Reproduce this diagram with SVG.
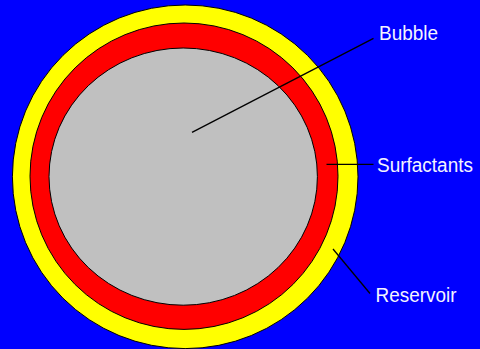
<svg xmlns="http://www.w3.org/2000/svg" width="480" height="349" viewBox="0 0 480 349">
<style>
.ring{stroke:#000;stroke-width:1}
.lbl{font-family:"Liberation Sans",Arial,sans-serif;font-size:21px;fill:#f4f4ff}
.ln{stroke:#000;stroke-width:1.3;fill:none}
</style>
<rect x="0" y="0" width="480" height="349" fill="#0000FF"/>
<g id="reservoir"><ellipse class="ring" cx="185.2" cy="176.8" rx="172.8" ry="171.8" fill="#FFFF00"/></g>
<g id="surfactants"><ellipse class="ring" cx="184" cy="176.2" rx="154" ry="153.2" fill="#FF0000"/></g>
<g id="bubble"><ellipse class="ring" cx="183.2" cy="176.6" rx="134.2" ry="128.6" fill="#C0C0C0"/></g>
<g id="connectors">
<line class="ln" x1="192" y1="132.3" x2="373.5" y2="38.3"/>
<line class="ln" x1="326.5" y1="164.3" x2="373.5" y2="164.3"/>
<line class="ln" x1="333" y1="249" x2="370" y2="293.5"/>
</g>
<g id="labels">
<text class="lbl" x="379" y="39.5" textLength="59" lengthAdjust="spacingAndGlyphs">Bubble</text>
<text class="lbl" x="377" y="171.5" font-size="20" style="font-size:20px" textLength="96" lengthAdjust="spacingAndGlyphs">Surfactants</text>
<text class="lbl" x="375.5" y="301.5" textLength="81" lengthAdjust="spacingAndGlyphs">Reservoir</text>
</g>
</svg>
